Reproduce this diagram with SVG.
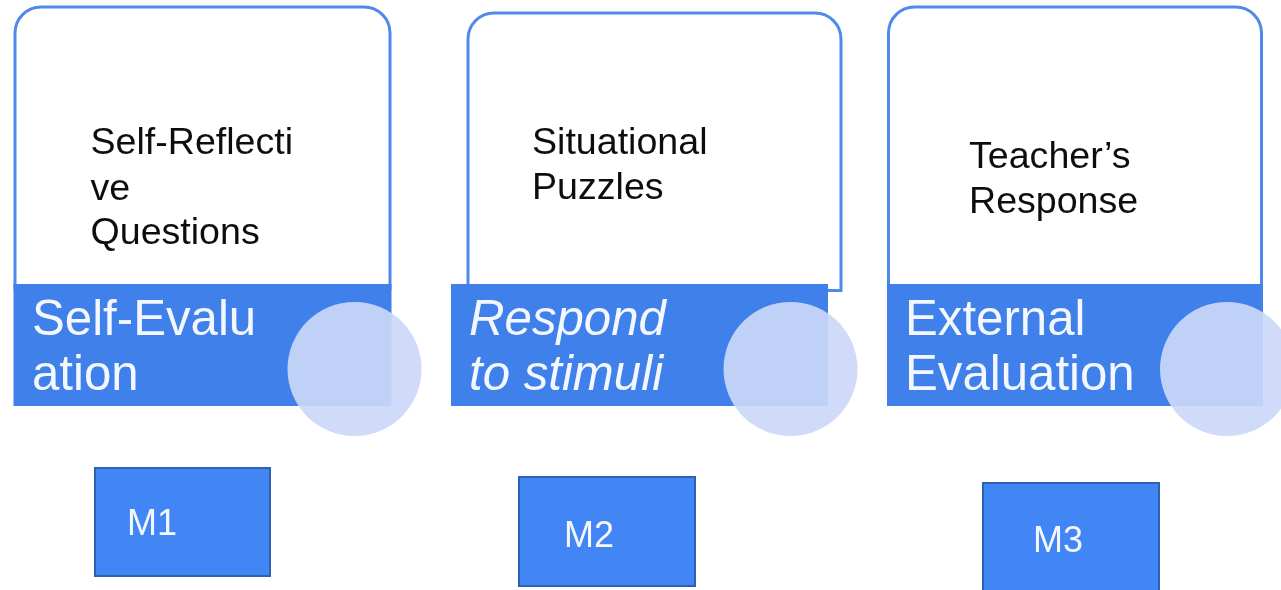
<svg xmlns="http://www.w3.org/2000/svg" width="1281" height="590" viewBox="0 0 1281 590">
<defs><filter id="soft" x="-5%" y="-5%" width="110%" height="110%"><feGaussianBlur stdDeviation="0.6"/></filter></defs>
<style>
text{font-family:"Liberation Sans",Arial,sans-serif}
.card{fill:#fff;stroke:#4f8aea;stroke-width:3}
.bar{fill:#3f80ea}
.m{fill:#4285f4;stroke:#2f62b0;stroke-width:2}
.disc{fill:#cbd8f8;fill-opacity:.92}
.b{font-size:37.600px;fill:#111}
.w{font-size:49.200px;fill:#f4f7fe}
.l{font-size:36px;fill:#f4f7fe}
g{filter:url(#soft)}
</style>
<rect width="1281" height="590" fill="#fff"/>
<g id="node-1">
<path class="card" d="M15 288V33A26 26 0 0 1 41 7H364A26 26 0 0 1 390 33V288Z"/>
<rect class="bar" x="13.500" y="284" width="378" height="122"/>
<ellipse class="disc" cx="354.500" cy="369" rx="67" ry="67"/>
<text class="b" x="90.500" y="154">Self-Reflecti</text>
<text class="b" x="90.500" y="200">ve</text>
<text class="b" x="90.500" y="244">Questions</text>
<text class="w" x="32" y="335">Self-Evalu</text>
<text class="w" x="32" y="390">ation</text>
</g>
<g id="node-2">
<path class="card" d="M468 290.500V39A26 26 0 0 1 494 13H815A26 26 0 0 1 841 39V290.500Z"/>
<rect class="bar" x="451" y="284" width="377" height="122"/>
<ellipse class="disc" cx="790.500" cy="369" rx="67" ry="67"/>
<text class="b" x="532" y="154">Situational</text>
<text class="b" x="532" y="199">Puzzles</text>
<text class="w" x="469" y="335" font-style="italic">Respond</text>
<text class="w" x="469" y="390" font-style="italic">to stimuli</text>
</g>
<g id="node-3">
<path class="card" d="M888.500 288V33A26 26 0 0 1 914.500 7H1235.500A26 26 0 0 1 1261.500 33V288Z"/>
<rect class="bar" x="887" y="284" width="376" height="122"/>
<ellipse class="disc" cx="1227" cy="369" rx="67" ry="67"/>
<text class="b" x="969" y="168">Teacher’s</text>
<text class="b" x="969" y="213">Response</text>
<text class="w" x="905" y="335">External</text>
<text class="w" x="905" y="390">Evaluation</text>
</g>
<g id="node-m1">
<rect class="m" x="95" y="468" width="175" height="108"/>
<text class="l" x="127" y="535">M1</text>
</g>
<g id="node-m2">
<rect class="m" x="519" y="477" width="176" height="109"/>
<text class="l" x="564" y="547">M2</text>
</g>
<g id="node-m3">
<rect class="m" x="983" y="483" width="176" height="112"/>
<text class="l" x="1033" y="552">M3</text>
</g>
<g id="connectors"/>
</svg>
